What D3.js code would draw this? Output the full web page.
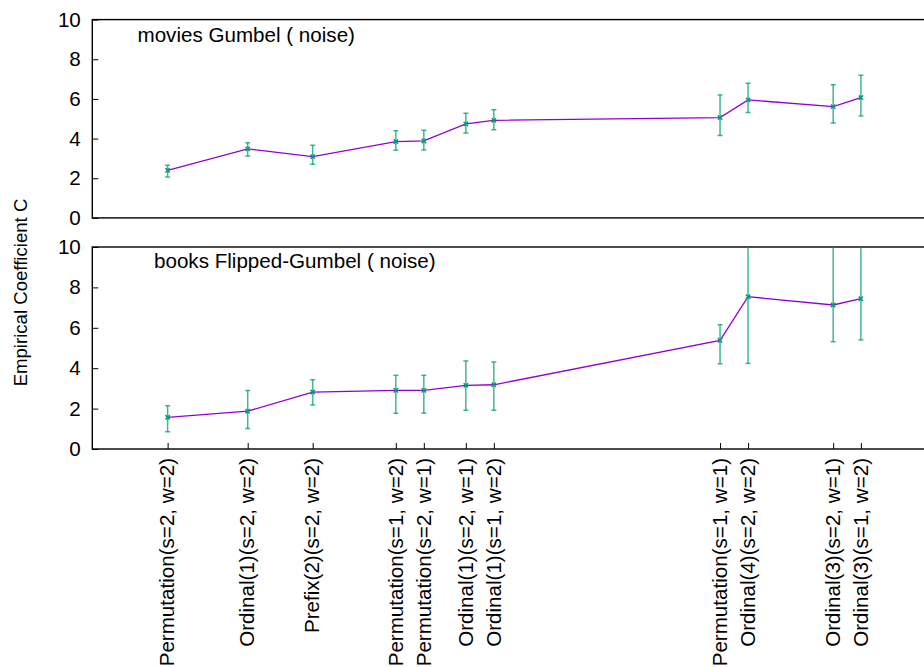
<!DOCTYPE html>
<html>
<head>
<meta charset="utf-8">
<script src="https://cdn.jsdelivr.net/npm/d3@7"></script>
<style>
  html, body { margin: 0; padding: 0; background: #fff; }
  svg { display: block; font-family: "Liberation Sans", Arial, sans-serif; }
</style>
</head>
<body>
<svg id="chart" width="924" height="667"></svg>
<script>
// ---- data ----
const labels = [
  "Permutation(s=2, w=2)", "Ordinal(1)(s=2, w=2)", "Prefix(2)(s=2, w=2)",
  "Permutation(s=1, w=2)", "Permutation(s=2, w=1)", "Ordinal(1)(s=2, w=1)",
  "Ordinal(1)(s=1, w=2)", "Permutation(s=1, w=1)", "Ordinal(4)(s=2, w=2)",
  "Ordinal(3)(s=2, w=1)", "Ordinal(3)(s=1, w=2)"
];
const xPos = [2.69, 5.55, 7.87, 10.84, 11.84, 13.34, 14.34, 22.42, 23.42, 26.46, 27.45];

const movies     = [2.40, 3.48, 3.09, 3.85, 3.88, 4.74, 4.92, 5.06, 5.95, 5.61, 6.07];
const moviesLow  = [2.06, 3.12, 2.70, 3.41, 3.43, 4.28, 4.45, 4.15, 5.31, 4.79, 5.14];
const moviesHigh = [2.65, 3.79, 3.66, 4.40, 4.42, 5.28, 5.46, 6.20, 6.79, 6.71, 7.19];

const books     = [1.57, 1.87, 2.82, 2.90, 2.90, 3.15, 3.18, 5.38, 7.54, 7.13, 7.44];
const booksLow  = [0.86, 1.02, 2.18, 1.77, 1.78, 1.92, 1.92, 4.22, 4.24, 5.31, 5.40];
const booksHigh = [2.14, 2.90, 3.43, 3.65, 3.65, 4.36, 4.31, 6.15, 10.8, 10.5, 10.5];

const yTicks = [0, 2, 4, 6, 8, 10];
const panelTitles = ["movies Gumbel ( noise)", "books Flipped-Gumbel ( noise)"];
const yLabel = "Empirical Coefficient C";

// ---- layout ----
const svg = d3.select("#chart");
const left = 92.3, right = 932.3;
const x = d3.scaleLinear().domain([0, 30]).range([left, right]);

const panels = [
  { top: 19.6, bottom: 217.9, vals: movies, lo: moviesLow, hi: moviesHigh, title: panelTitles[0], tx: 137.5, ty: 41.5, xaxis: false },
  { top: 247.0, bottom: 449.0, vals: books, lo: booksLow, hi: booksHigh, title: panelTitles[1], tx: 154, ty: 267.5, xaxis: true }
];

const lineColor = "#9400d3";
const errColor = "#009e73";
const fs = 20.6;

panels.forEach((p, pi) => {
  const y = d3.scaleLinear().domain([0, 10]).range([p.bottom, p.top]);
  const clipId = "clip" + pi;
  svg.append("clipPath").attr("id", clipId)
    .append("rect").attr("x", left).attr("y", p.top)
    .attr("width", right - left).attr("height", p.bottom - p.top);

  // y axis
  const ya = svg.append("g").attr("transform", `translate(${left},0)`)
    .call(d3.axisLeft(y).tickValues(yTicks).tickSizeInner(-6).tickSizeOuter(0).tickPadding(11.5));
  ya.select(".domain").remove();
  ya.selectAll(".tick line").attr("stroke", "#000").attr("stroke-width", 1);
  ya.selectAll(".tick text").attr("font-size", fs).attr("fill", "#000")
    .attr("font-family", "Liberation Sans, Arial, sans-serif");

  // x axis on bottom panel
  if (p.xaxis) {
    const xa = svg.append("g").attr("transform", `translate(0,${p.bottom})`)
      .call(d3.axisBottom(x).tickValues(xPos).tickFormat((d, i) => labels[i])
        .tickSizeInner(-6).tickSizeOuter(0));
    xa.select(".domain").remove();
    xa.selectAll(".tick line").attr("stroke", "#000").attr("stroke-width", 1);
    xa.selectAll(".tick text")
      .attr("font-size", fs).attr("fill", "#000")
      .attr("font-family", "Liberation Sans, Arial, sans-serif")
      .attr("transform", "rotate(-90)")
      .attr("text-anchor", "end")
      .attr("x", -9).attr("y", 0).attr("dy", "0.3em");
  }

  // frame
  svg.append("rect").attr("x", left).attr("y", p.top)
    .attr("width", right - left).attr("height", p.bottom - p.top)
    .attr("fill", "none").attr("stroke", "#000").attr("stroke-width", 1.4);

  const g = svg.append("g").attr("clip-path", `url(#${clipId})`);

  // line
  g.append("path")
    .datum(p.vals)
    .attr("fill", "none").attr("stroke", lineColor).attr("stroke-width", 1.3)
    .attr("d", d3.line().x((d, i) => x(xPos[i])).y(d => y(d)));

  // error bars
  const eb = g.selectAll(".eb").data(p.vals).enter().append("g")
    .attr("stroke", errColor).attr("stroke-width", 1.5).attr("stroke-opacity", 0.75);
  eb.append("line")
    .attr("x1", (d, i) => x(xPos[i])).attr("x2", (d, i) => x(xPos[i]))
    .attr("y1", (d, i) => y(p.lo[i])).attr("y2", (d, i) => y(p.hi[i]));
  eb.append("line")
    .attr("x1", (d, i) => x(xPos[i]) - 2.5).attr("x2", (d, i) => x(xPos[i]) + 2.5)
    .attr("y1", (d, i) => y(p.lo[i])).attr("y2", (d, i) => y(p.lo[i]));
  eb.append("line")
    .attr("x1", (d, i) => x(xPos[i]) - 2.5).attr("x2", (d, i) => x(xPos[i]) + 2.5)
    .attr("y1", (d, i) => y(p.hi[i])).attr("y2", (d, i) => y(p.hi[i]));

  // point markers (x cross)
  const sym = d3.symbol().type(d3.symbolX).size(14);
  g.selectAll(".pt").data(p.vals).enter().append("path")
    .attr("transform", (d, i) => `translate(${x(xPos[i])},${y(d)})`)
    .attr("d", sym).attr("fill", "none").attr("stroke", errColor).attr("stroke-width", 1.5);

  // title
  svg.append("text").attr("x", p.tx).attr("y", p.ty)
    .attr("font-size", fs).attr("fill", "#000").text(p.title);
});

// y label
svg.append("text")
  .attr("transform", "translate(27,292.5) rotate(-90)")
  .attr("text-anchor", "middle")
  .attr("font-size", 18.6).attr("fill", "#000")
  .text(yLabel);
</script>
</body>
</html>
